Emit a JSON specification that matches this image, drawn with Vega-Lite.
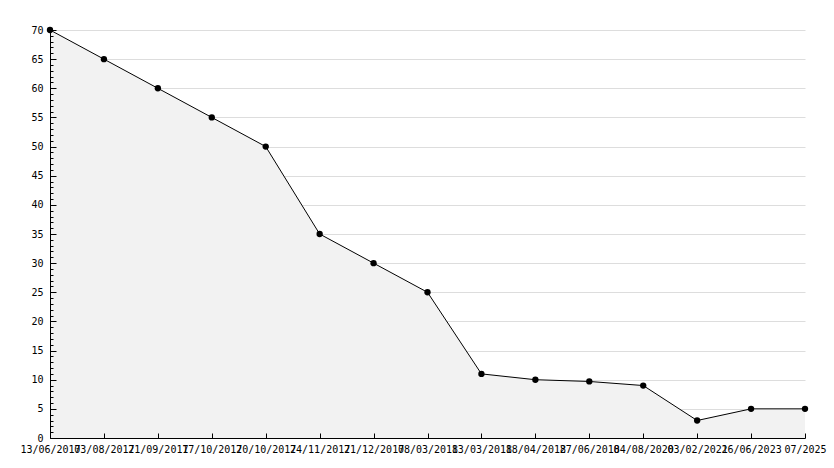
{
  "$schema": "https://vega.github.io/schema/vega-lite/v6.json",
  "width": 755,
  "height": 408,
  "autosize": {"type": "none"},
  "padding": {"left": 50, "top": 30, "right": 29, "bottom": 30},
  "background": "white",
  "config": {"view": {"stroke": null}, "font": "DejaVu Sans Mono"},
  "data": {"values": [
    {"date": "13/06/2017", "value": 70},
    {"date": "03/08/2017", "value": 65},
    {"date": "21/09/2017", "value": 60},
    {"date": "17/10/2017", "value": 55},
    {"date": "20/10/2017", "value": 50},
    {"date": "24/11/2017", "value": 35},
    {"date": "21/12/2017", "value": 30},
    {"date": "08/03/2018", "value": 25},
    {"date": "13/03/2018", "value": 11},
    {"date": "18/04/2018", "value": 10},
    {"date": "27/06/2018", "value": 9.7},
    {"date": "04/08/2020", "value": 9},
    {"date": "03/02/2021", "value": 3},
    {"date": "26/06/2023", "value": 5},
    {"date": "07/2025", "value": 5}
  ]},
  "encoding": {
    "x": {"field": "date", "type": "ordinal", "sort": null,
      "scale": {"type": "point", "padding": 0},
      "axis": {"title": null, "labelAngle": 0, "labelOverlap": false, "labelFlush": false,
        "labelFont": "DejaVu Sans Mono", "labelFontSize": 10, "labelColor": "black",
        "domainColor": "black", "tickColor": "black", "tickSize": -5, "labelPadding": 11, "grid": false, "zindex": 1}}
  },
  "layer": [
    {"mark": {"type": "area", "color": "#f2f2f2", "opacity": 1},
     "encoding": {"y": {"field": "value", "type": "quantitative",
      "scale": {"domain": [0, 70], "nice": false},
      "axis": {"title": null, "values": [5,10,15,20,25,30,35,40,45,50,55,60,65,70],
        "labels": false, "ticks": false, "domain": false, "grid": true, "gridColor": "#dddddd", "zindex": 0}}}},
    {"encoding": {"y": {"field": "value", "type": "quantitative",
      "scale": {"domain": [0, 70], "nice": false},
      "axis": {"title": null, "orient": "left", "values": [0,1,2,3,4,5,6,7,8,9,10,11,12,13,14,15,16,17,18,19,20,21,22,23,24,25,26,27,28,29,30,31,32,33,34,35,36,37,38,39,40,41,42,43,44,45,46,47,48,49,50,51,52,53,54,55,56,57,58,59,60,61,62,63,64,65,66,67,68,69,70],
        "labelExpr": "datum.value % 5 === 0 ? datum.label : ''",
        "labelOverlap": false, "labelFont": "DejaVu Sans Mono", "labelFontSize": 10, "labelColor": "black",
        "labelPadding": 13,
        "domainColor": "black", "tickColor": "black",
        "tickSize": {"condition": {"test": "datum.value % 5 === 0", "value": -6}, "value": -3},
        "grid": false, "zindex": 1}}},
     "layer": [
      {"mark": {"type": "line", "color": "black", "strokeWidth": 1}},
      {"mark": {"type": "point", "shape": "circle", "filled": true, "color": "black", "size": 40, "opacity": 1}}
     ]}
  ],
  "resolve": {"axis": {"y": "independent"}}
}
